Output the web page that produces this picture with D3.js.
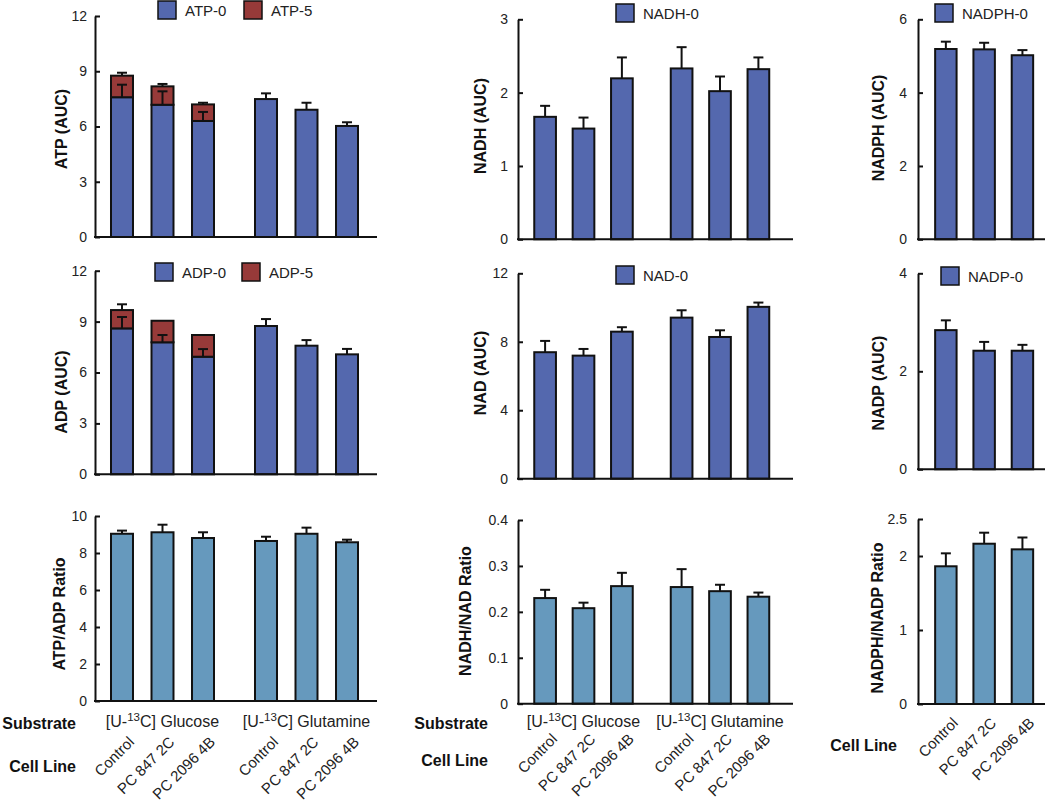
<!DOCTYPE html>
<html>
<head>
<meta charset="utf-8">
<script src="https://cdn.jsdelivr.net/npm/d3@7"></script>
<style>
  html, body { margin: 0; padding: 0; background: #fff; }
  svg { display: block; }
</style>
</head>
<body>
<svg id="chart" width="1050" height="804"></svg>
<script>
// ---------------- DATA ----------------
const cellLines = ["Control", "PC 847 2C", "PC 2096 4B"];
const substrates = ["Glucose", "Glutamine"];

// ATP (AUC), stacked: ATP-0 + ATP-5 (order: Glucose x3, Glutamine x3)
const atp0 = [7.59, 7.18, 6.30, 7.49, 6.91, 6.03];
const atp0Err = [0.68, 0.73, 0.49, 0.31, 0.38, 0.20];
const atp5 = [1.17, 1.00, 0.90, 0, 0, 0];
const atpTotalErr = [0.16, 0.13, 0.09, 0, 0, 0];

// ADP (AUC), stacked: ADP-0 + ADP-5
const adp0 = [8.60, 7.78, 6.93, 8.74, 7.58, 7.07];
const adp0Err = [0.67, 0.43, 0.45, 0.41, 0.33, 0.32];
const adp5 = [1.08, 1.27, 1.28, 0, 0, 0];
const adpTotalErr = [0.34, 0, 0, 0, 0, 0];

// ATP/ADP ratio
const atpAdpRatio = [9.04, 9.12, 8.81, 8.65, 9.04, 8.58];
const atpAdpRatioErr = [0.17, 0.41, 0.31, 0.23, 0.33, 0.14];

// NADH (AUC)
const nadh0 = [1.67, 1.51, 2.195, 2.33, 2.02, 2.32];
const nadh0Err = [0.15, 0.15, 0.285, 0.29, 0.20, 0.16];

// NAD (AUC)
const nad0 = [7.39, 7.19, 8.59, 9.41, 8.28, 10.04];
const nad0Err = [0.66, 0.39, 0.26, 0.43, 0.39, 0.25];

// NADH/NAD ratio
const nadhNadRatio = [0.230, 0.208, 0.256, 0.254, 0.245, 0.233];
const nadhNadRatioErr = [0.018, 0.012, 0.029, 0.039, 0.014, 0.009];

// NADPH (AUC), NADP (AUC), NADPH/NADP ratio (cell lines only)
const nadph0 = [5.19, 5.18, 5.02];
const nadph0Err = [0.20, 0.18, 0.14];
const nadp0 = [2.84, 2.42, 2.42];
const nadp0Err = [0.20, 0.18, 0.12];
const nadphNadpRatio = [1.861, 2.166, 2.09];
const nadphNadpRatioErr = [0.175, 0.149, 0.16];

// tick values
const ticksATP = [0, 3, 6, 9, 12];
const ticksATPADP = [0, 2, 4, 6, 8, 10];
const ticksNADH = [0, 1, 2, 3];
const ticksNAD = [0, 4, 8, 12];
const ticksNADHNAD = [0, 0.1, 0.2, 0.3, 0.4];
const ticksNADPH = [0, 2, 4, 6];
const ticksNADP = [0, 2, 4];
const ticksNADPHNADP = [0, 1, 2, 2.5];

// ---------------- STYLE ----------------
const FONT = "'Liberation Sans', Arial, Helvetica, sans-serif";
const BLUE = "#5468ae";
const RED = "#973a39";
const STEEL = "#6699bd";
const INK = "#111";

const svg = d3.select("#chart").style("font-family", FONT);
svg.append("rect").attr("width", 1050).attr("height", 804).attr("fill", "#fff");

// ---------------- LAYOUT ----------------
const columns = [
  { axisX: 95, axisEnd: 377, groups: substrates, range: [90.5, 378.5], pi: 0.457, po: 0.506, pad: 8 },
  { axisX: 518, axisEnd: 793, groups: substrates, range: [515.25, 788.25], pi: 0.435, po: 0.495, pad: 10 },
  { axisX: 918, axisEnd: 1045, groups: ["All"], range: [916, 1052.3], pi: 0.44, po: 0.5, pad: 11 }
];

function makeX(col) {
  const x0 = d3.scaleBand().domain(col.groups).range(col.range);
  const x1 = d3.scaleBand().domain(cellLines).range([0, x0.bandwidth()])
    .paddingInner(col.pi).paddingOuter(col.po);
  return { x0, x1 };
}

function drawPanel(opt) {
  const col = columns[opt.col];
  const { x0, x1 } = makeX(col);
  const y = d3.scaleLinear().domain([0, opt.max]).range([opt.yBot, opt.yTop]);
  const g = svg.append("g");
  const cx = (gi, ci) => x0(col.groups[gi]) + x1(cellLines[ci]);
  const n = opt.series[0].length;
  const idx = d3.range(n).map(i => ({ i, gi: Math.floor(i / 3), ci: i % 3 }));

  // bars (stacked if more than one series)
  idx.forEach(d => {
    let base = 0;
    opt.series.forEach((s, si) => {
      const v = s[d.i];
      if (v > 0) {
        g.append("rect")
          .attr("x", cx(d.gi, d.ci))
          .attr("width", x1.bandwidth())
          .attr("y", y(base + v))
          .attr("height", y(base) - y(base + v))
          .attr("fill", opt.colors[si])
          .attr("stroke", INK)
          .attr("stroke-width", 2);
      }
      base += v;
    });
  });

  // error bars
  idx.forEach(d => {
    let base = 0;
    opt.series.forEach((s, si) => {
      base += s[d.i];
      const e = opt.errs[si] ? opt.errs[si][d.i] : 0;
      if (e > 0) {
        const c = cx(d.gi, d.ci) + x1.bandwidth() / 2;
        g.append("line").attr("x1", c).attr("x2", c)
          .attr("y1", y(base)).attr("y2", y(base + e))
          .attr("stroke", INK).attr("stroke-width", 2);
        g.append("line").attr("x1", c - 5).attr("x2", c + 5)
          .attr("y1", y(base + e)).attr("y2", y(base + e))
          .attr("stroke", INK).attr("stroke-width", 2);
      }
    });
  });

  // y axis
  const ax = g.append("g").attr("transform", `translate(${col.axisX},0)`)
    .call(d3.axisLeft(y).tickValues(opt.ticks).tickSizeInner(-5).tickSizeOuter(0)
      .tickPadding(col.pad).tickFormat(opt.fmt || d3.format("")));
  ax.select(".domain").attr("stroke", INK).attr("stroke-width", 2);
  ax.selectAll(".tick line").attr("stroke", INK).attr("stroke-width", 2);
  ax.selectAll(".tick text").attr("fill", "#222").style("font-size", "14px").style("font-family", FONT);

  // x axis baseline
  g.append("line").attr("x1", col.axisX - 1).attr("x2", col.axisEnd)
    .attr("y1", y(0)).attr("y2", y(0)).attr("stroke", INK).attr("stroke-width", 2);

  // y title
  g.append("text")
    .attr("transform", `translate(${opt.titleX},${opt.titleY}) rotate(-90)`)
    .attr("text-anchor", "middle").attr("dominant-baseline", "central")
    .style("font-size", "16px").style("font-weight", "bold").attr("fill", INK)
    .text(opt.title);

  // legend
  if (opt.legend) {
    opt.legend.forEach(L => {
      g.append("rect").attr("x", L.x).attr("y", L.y).attr("width", 18).attr("height", 18)
        .attr("fill", L.color).attr("stroke", INK).attr("stroke-width", 1.5);
      g.append("text").attr("x", L.x + 27).attr("y", L.y + 15)
        .style("font-size", "15px").attr("fill", "#222").text(L.label);
    });
  }
  return { x0, x1, y, col };
}

// ---------- Row 1 ----------
drawPanel({ col: 0, yBot: 237, yTop: 16, max: 12, ticks: ticksATP,
  series: [atp0, atp5], errs: [atp0Err, atpTotalErr], colors: [BLUE, RED],
  title: "ATP (AUC)", titleX: 61, titleY: 129,
  legend: [{ x: 158, y: 1, color: BLUE, label: "ATP-0" }, { x: 244, y: 1, color: RED, label: "ATP-5" }] });

drawPanel({ col: 1, yBot: 239.3, yTop: 19.3, max: 3, ticks: ticksNADH,
  series: [nadh0], errs: [nadh0Err], colors: [BLUE],
  title: "NADH (AUC)", titleX: 480, titleY: 126,
  legend: [{ x: 616, y: 4, color: BLUE, label: "NADH-0" }] });

drawPanel({ col: 2, yBot: 239.3, yTop: 19.3, max: 6, ticks: ticksNADPH,
  series: [nadph0], errs: [nadph0Err], colors: [BLUE],
  title: "NADPH (AUC)", titleX: 878, titleY: 128,
  legend: [{ x: 935, y: 4, color: BLUE, label: "NADPH-0" }] });

// ---------- Row 2 ----------
drawPanel({ col: 0, yBot: 474.3, yTop: 270.7, max: 12, ticks: ticksATP,
  series: [adp0, adp5], errs: [adp0Err, adpTotalErr], colors: [BLUE, RED],
  title: "ADP (AUC)", titleX: 61, titleY: 392,
  legend: [{ x: 155, y: 263, color: BLUE, label: "ADP-0" }, { x: 242, y: 263, color: RED, label: "ADP-5" }] });

drawPanel({ col: 1, yBot: 478.7, yTop: 273.3, max: 12, ticks: ticksNAD,
  series: [nad0], errs: [nad0Err], colors: [BLUE],
  title: "NAD (AUC)", titleX: 480, titleY: 373,
  legend: [{ x: 616, y: 266, color: BLUE, label: "NAD-0" }] });

drawPanel({ col: 2, yBot: 469.3, yTop: 273.3, max: 4, ticks: ticksNADP,
  series: [nadp0], errs: [nadp0Err], colors: [BLUE],
  title: "NADP (AUC)", titleX: 878, titleY: 383,
  legend: [{ x: 941, y: 267, color: BLUE, label: "NADP-0" }] });

// ---------- Row 3 ----------
const p7 = drawPanel({ col: 0, yBot: 701, yTop: 516, max: 10, ticks: ticksATPADP,
  series: [atpAdpRatio], errs: [atpAdpRatioErr], colors: [STEEL],
  title: "ATP/ADP Ratio", titleX: 59, titleY: 614 });

const p8 = drawPanel({ col: 1, yBot: 703.7, yTop: 520, max: 0.4, ticks: ticksNADHNAD,
  series: [nadhNadRatio], errs: [nadhNadRatioErr], colors: [STEEL],
  fmt: d => d === 0 ? "0" : d3.format(".1f")(d),
  title: "NADH/NAD Ratio", titleX: 465, titleY: 611 });

const p9 = drawPanel({ col: 2, yBot: 704, yTop: 519, max: 2.5, ticks: ticksNADPHNADP,
  series: [nadphNadpRatio], errs: [nadphNadpRatioErr], colors: [STEEL],
  fmt: d => d === 2.5 ? "2.5" : d3.format("d")(d),
  title: "NADPH/NADP Ratio", titleX: 877, titleY: 618 });

// ---------- Category labels ----------
function substrateLabels(p, baseY, headX) {
  svg.append("text").attr("x", headX).attr("y", baseY + 2).attr("text-anchor", "end")
    .style("font-size", "16px").style("font-weight", "bold").attr("fill", INK).text("Substrate");
  substrates.forEach(s => {
    const c = p.x0(s) + p.x0.bandwidth() / 2;
    const t = svg.append("text").attr("x", c).attr("y", baseY).attr("text-anchor", "middle")
      .style("font-size", "16px").attr("fill", "#222");
    t.append("tspan").text("[U-");
    t.append("tspan").attr("dy", -6).style("font-size", "11.5px").text("13");
    t.append("tspan").attr("dy", 6).text("C] " + s);
  });
}
function cellLabels(p, anchorY, headX, headY) {
  svg.append("text").attr("x", headX).attr("y", headY).attr("text-anchor", "end")
    .style("font-size", "16px").style("font-weight", "bold").attr("fill", INK).text("Cell Line");
  p.col.groups.forEach(gname => {
    cellLines.forEach(cl => {
      const c = p.x0(gname) + p.x1(cl) + p.x1.bandwidth() / 2;
      svg.append("text")
        .attr("transform", `translate(${c + 13},${anchorY}) rotate(-45)`)
        .attr("text-anchor", "end")
        .style("font-size", "15px").attr("fill", "#222").text(cl);
    });
  });
}

substrateLabels(p7, 727, 76);
cellLabels(p7, 743, 76, 772);
substrateLabels(p8, 727, 488);
cellLabels(p8, 740, 488, 766);
cellLabels(p9, 724, 897, 751);
</script>
</body>
</html>
